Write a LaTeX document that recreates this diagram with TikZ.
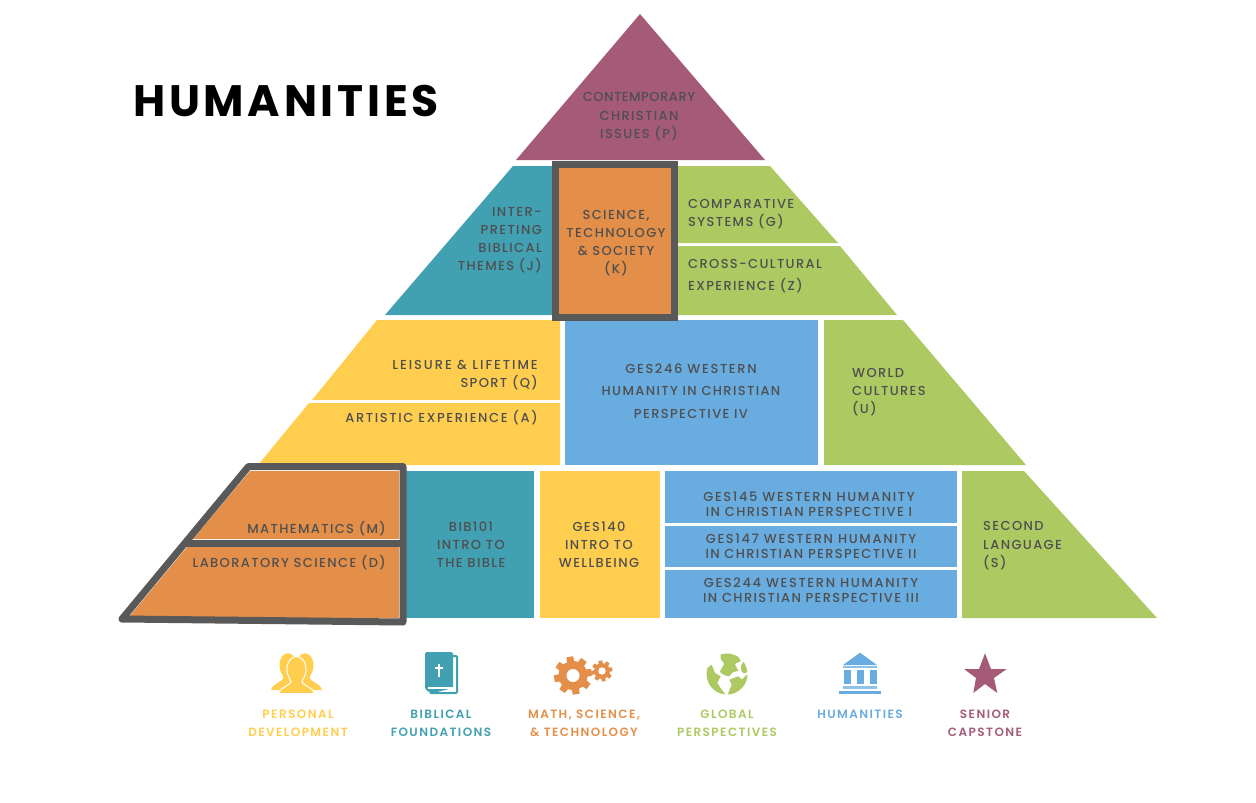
\documentclass[tikz,border=0pt]{standalone}
\usepackage{fontspec}
\setmainfont{Poppins Medium}[LetterSpace=10.5]
\newfontfamily\titlefont{Poppins}[LetterSpace=8.5]
\newfontfamily\legendfont{Poppins SemiBold}[LetterSpace=12]
\definecolor{mauve}{HTML}{A55A78}
\definecolor{tealc}{HTML}{41A0B2}
\definecolor{orangec}{HTML}{E38F4A}
\definecolor{greenc}{HTML}{ADC962}
\definecolor{yellowc}{HTML}{FFCE4F}
\definecolor{bluec}{HTML}{68ACE0}
\definecolor{framec}{HTML}{595959}
\definecolor{inkc}{HTML}{4F4F4F}
\tikzset{
  x=1pt,y=-1pt,
  lbl/.style={text=inkc,inner sep=0pt,yshift=-1.3pt,font=\fontsize{13}{18.2}\selectfont,align=#1},
  lbl/.default=center,
  frameline/.style={draw=framec,line width=7pt,line join=round,line cap=round},
  legend/.style={inner sep=0pt,align=center,font=\fontsize{12}{18}\selectfont\legendfont},
}
\begin{document}
\begin{tikzpicture}
\useasboundingbox (0,0) rectangle (1256,803);
% apex
\fill[mauve] (640,14) -- (765,160) -- (516,160) -- cycle;
% row 2
\fill[tealc] (513,166) -- (553,166) -- (553,315) -- (385,315) -- cycle;
\fill[orangec] (559,167) rectangle (671,315);
\fill[greenc] (677,166) -- (770,166) -- (838,243) -- (677,243) -- cycle;
\fill[greenc] (677,246) -- (840,246) -- (897,315) -- (677,315) -- cycle;
% row 3
\fill[yellowc] (377,320) -- (560,320) -- (560,400) -- (312,400) -- cycle;
\fill[yellowc] (309,403) -- (560,403) -- (560,465) -- (258,465) -- cycle;
\fill[bluec] (565,320) rectangle (818,465);
\fill[greenc] (824,320) -- (903,320) -- (1026,465) -- (824,465) -- cycle;
% row 4
\fill[orangec] (250,471) -- (399,471) -- (399,539) -- (193,539) -- cycle;
\fill[orangec] (187,547) -- (399,547) -- (399,618) -- (128,618) -- cycle;
\fill[tealc] (406,471) rectangle (534,618);
\fill[yellowc] (540,471) rectangle (660,618);
\fill[bluec] (665,471) rectangle (957,523);
\fill[bluec] (665,526) rectangle (957,567);
\fill[bluec] (665,570) rectangle (957,618);
\fill[greenc] (962,471) -- (1024,471) -- (1157,618) -- (962,618) -- cycle;
% frames
\draw[frameline,line cap=butt,line join=miter] (555.5,164.5) rectangle (674,317.5);
\draw[frameline] (248.5,466.5) -- (403,466.5) -- (403,622) -- (122,619) -- cycle;
\draw[draw=framec,line width=7pt] (186,543) -- (403,543);
% title
\node[anchor=west,inner sep=0pt,text=black,font=\fontsize{44}{44}\selectfont\titlefont\bfseries] (title) at (133,101) {HUMANITIES};
% labels
\node[lbl] (p) at (639,115.5) {\addfontfeature{LetterSpace=4}CONTEMPORARY\\CHRISTIAN\\ISSUES (P)};
\node[lbl=right,anchor=east] (j) at (542,239) {INTER-\\PRETING\\BIBLICAL\\THEMES (J)};
\node[lbl] (k) at (616,242) {SCIENCE,\\TECHNOLOGY\\\& SOCIETY\\(K)};
\node[lbl=left,anchor=west] (g) at (688,213) {COMPARATIVE\\SYSTEMS (G)};
\node[lbl=left,anchor=west,font=\fontsize{13}{22.5}\selectfont] (z) at (688,275) {CROSS-CULTURAL\\EXPERIENCE (Z)};
\node[lbl=right,anchor=east] (q) at (538,374) {\addfontfeature{LetterSpace=15}LEISURE \& LIFETIME\\SPORT (Q)};
\node[lbl=right,anchor=east] (a) at (538,416) {\addfontfeature{LetterSpace=12.5}ARTISTIC EXPERIENCE (A)};
\node[lbl,font=\fontsize{13}{22.5}\selectfont] (g246) at (691,389.5) {\addfontfeature{LetterSpace=12.5}GES246 WESTERN\\HUMANITY IN CHRISTIAN\\PERSPECTIVE IV};
\node[lbl=left,anchor=west] (u) at (852,391) {WORLD\\CULTURES\\(U)};
\node[lbl=right,anchor=east] (m) at (386,527) {MATHEMATICS (M)};
\node[lbl=right,anchor=east] (d) at (386,561) {LABORATORY SCIENCE (D)};
\node[lbl] (b) at (471,543.5) {BIB101\\INTRO TO\\THE BIBLE};
\node[lbl] (w) at (599,543.5) {GES140\\INTRO TO\\WELLBEING};
\node[lbl,font=\fontsize{13}{15}\selectfont] (g145) at (809,502.5) {\addfontfeature{LetterSpace=12.5}GES145 WESTERN HUMANITY\\IN CHRISTIAN PERSPECTIVE I};
\node[lbl,font=\fontsize{13}{15}\selectfont] (g147) at (811,545.5) {\addfontfeature{LetterSpace=12.5}GES147 WESTERN HUMANITY\\IN CHRISTIAN PERSPECTIVE II};
\node[lbl,font=\fontsize{13}{15}\selectfont] (g244) at (811,588.5) {\addfontfeature{LetterSpace=12.5}GES244 WESTERN HUMANITY\\IN CHRISTIAN PERSPECTIVE III};
\node[lbl=left,anchor=west] (s) at (983,544.5) {SECOND\\LANGUAGE\\(S)};
% legend labels
\node[legend,text=yellowc] (l1) at (298,723) {PERSONAL\\DEVELOPMENT};
\node[legend,text=tealc] (l2) at (441,723) {BIBLICAL\\FOUNDATIONS};
\node[legend,text=orangec] (l3) at (584,723) {MATH, SCIENCE,\\\& TECHNOLOGY};
\node[legend,text=greenc] (l4) at (727,723) {GLOBAL\\PERSPECTIVES};
\node[legend,text=bluec] (l5) at (860,714) {HUMANITIES};
\node[legend,text=mauve] (l6) at (985,723) {SENIOR\\CAPSTONE};
% people icon
\foreach \cx in {288,305}{
  \fill[yellowc,shift={(\cx,673)}] (-8.5,-7) .. controls (-8.5,-24) and (8.5,-24) .. (8.5,-7) .. controls (8.5,-1) and (5,2) .. (4.5,5) .. controls (6,9) and (15,10) .. (17,17) -- (-17,17) .. controls (-15,10) and (-6,9) .. (-4.5,5) .. controls (-5,2) and (-8.5,-1) .. (-8.5,-7) -- cycle;
}
\fill[yellowc,draw=white,line width=1pt,shift={(296.5,674)}] (-9.5,-4) .. controls (-9.5,-22) and (9.5,-22) .. (9.5,-4) .. controls (9.5,2) and (6,5) .. (5.5,8) .. controls (7,12) and (15,12) .. (18,19.5) -- (-18,19.5) .. controls (-15,12) and (-7,12) .. (-5.5,8) .. controls (-6,5) and (-9.5,2) .. (-9.5,-4) -- cycle;
% book icon
\fill[tealc,rounded corners=1.5pt] (425,652) -- (453,652) -- (453,688) -- (431,693.5) -- (425,689) -- cycle;
\draw[tealc,line width=2pt,rounded corners=1pt] (453,656) -- (457,656) -- (457,693) -- (430,693);
\draw[white,line width=1.5pt] (428,688) -- (454.5,688);
\fill[white] (438.2,664) rectangle (440.2,677);
\fill[white] (435,667) rectangle (443.4,669);
% gears
\foreach \cx/\cy/\ro/\ri/\hole/\tw in {573/675.5/19/14.5/6.5/4.5,602/671/10.5/8/3.7/2.5}{
  \foreach \a in {0,45,...,315}
    \fill[orangec,rotate around={\a+10:(\cx,\cy)}] ({\cx-\tw},\cy) -- ({\cx-\tw*0.75},{\cy-\ro}) -- ({\cx+\tw*0.75},{\cy-\ro}) -- ({\cx+\tw},\cy) -- cycle;
  \fill[orangec] (\cx,\cy) circle[radius=\ri];
  \fill[white] (\cx,\cy) circle[radius=\hole];
}
% globe
\begin{scope}
  \clip (727,674) circle[radius=20.5];
  \fill[greenc] (700,700) -- (700,662) -- (707.3,668) -- (711.7,664.7) -- (715,673) -- (720.7,676.3) -- (717.3,683) -- (721.7,689.7) -- (726,695) -- cycle;
  \fill[greenc] plot[smooth cycle,tension=.4] coordinates {(721.7,653) (733.3,652) (740.7,660.7) (735,664) (738.3,670.7) (733.3,672) (728.3,676.3) (720,672) (724,664) (720.7,658.7)};
  \fill[greenc] (727,696) -- (731.7,684.7) -- (729.3,679.7) -- (738.3,676.3) -- (741.7,679.7) -- (746.7,674.7) -- (760,675) -- (750,700) -- cycle;
  \fill[greenc] plot[smooth cycle,tension=.5] coordinates {(741,666) (745,661) (749,668) (746,673) (742,672)};
\end{scope}
% temple
\fill[bluec] (860,652.7) -- (877,665) -- (843,665) -- cycle;
\fill[bluec!75!white] (843,666) rectangle (877,668);
\foreach \tx in {844,857,870} \fill[bluec] (\tx,670) rectangle +(6.5,13.5);
\fill[bluec!75!white] (843,686) rectangle (877,689);
\fill[bluec] (839,690.7) rectangle (881,694);
% star
\fill[mauve] (985,653.3) -- (991,669) -- (1006.7,669) -- (994,678) -- (997.3,693)
  -- (985,684) -- (973.3,693) -- (976,678) -- (964,669) -- (979,669) -- cycle;
\end{tikzpicture}
\end{document}
